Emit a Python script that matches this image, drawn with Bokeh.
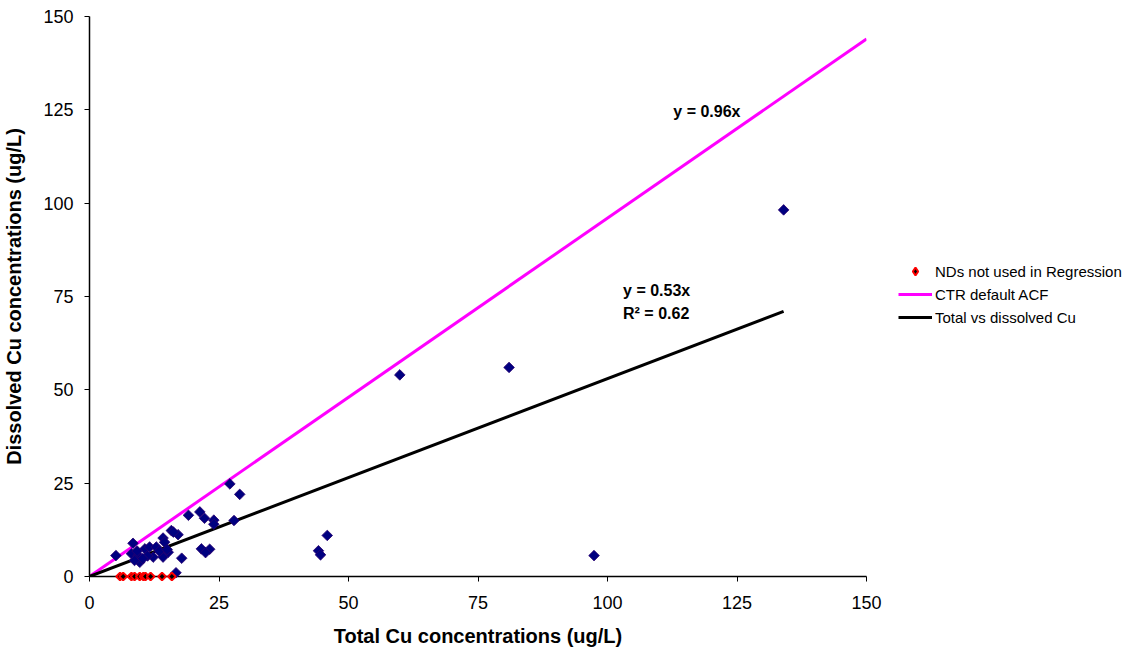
import numpy as np
from bokeh.plotting import figure
from bokeh.models import Range1d, Legend, LegendItem, FixedTicker
from bokeh.core.properties import value
from bokeh.embed import file_html
from bokeh.resources import INLINE

# Data
total_cu = [5.1, 8.4, 8.1, 9.4, 9.7, 8.7, 10.7, 11.6, 12.3, 12.9, 14.2, 14.5, 14.2, 15.2,
            15.8, 17.1, 17.8, 16.7, 19.1, 21.3, 22.2, 24.0, 24.0, 21.6, 23.2, 22.4,
            27.1, 29.0, 27.9, 44.2, 44.6, 45.9, 59.9, 81.0, 97.4, 134.0,
            9.2, 11.2, 13.5, 16.2, 15.0, 10.3]
dissolved_cu = [5.6, 8.9, 6.1, 5.6, 3.8, 4.3, 7.4, 7.9, 5.2, 7.9, 10.3, 9.2, 5.2, 6.5,
                12.3, 11.2, 4.9, 1.0, 16.4, 17.3, 15.6, 15.1, 14.0, 7.4, 7.3, 6.4,
                24.8, 22.0, 15.0, 6.9, 5.8, 11.0, 54.0, 56.0, 5.6, 98.2,
                6.8, 5.5, 6.8, 11.9, 7.2, 4.8]
nd_total = [5.9, 6.5, 8.1, 8.7, 9.7, 10.4, 10.8, 11.8, 14.0, 15.9]
nd_dissolved = [0, 0, 0, 0, 0, 0, 0, 0, 0, 0]
acf_slope = 0.96
reg_slope = 0.53
reg_r2 = 0.62
ticks = [0, 25, 50, 75, 100, 125, 150]

FONT = "Liberation Sans"

p = figure(frame_width=777, frame_height=560,
           min_border_left=85, min_border_top=16, min_border_right=262, min_border_bottom=70,
           x_range=Range1d(0, 150), y_range=Range1d(0, 150),
           output_backend="svg", toolbar_location=None)
p.outline_line_color = None
p.xgrid.visible = False
p.ygrid.visible = False
p.background_fill_color = "white"
p.border_fill_color = "white"

for ax in (p.xaxis[0], p.yaxis[0]):
    ax.ticker = FixedTicker(ticks=ticks)
    ax.minor_tick_line_color = None
    ax.major_tick_in = 0
    ax.major_tick_out = 5
    ax.axis_line_color = "black"
    ax.axis_line_width = 1.5
    ax.major_tick_line_color = "black"
    ax.major_label_text_font = FONT
    ax.major_label_text_font_size = "18px"
    ax.major_label_text_color = "black"
    ax.axis_label_text_font = FONT
    ax.axis_label_text_font_size = "20px"
    ax.axis_label_text_font_style = "bold"
    ax.axis_label_text_color = "black"

p.xaxis.axis_label = "Total Cu concentrations (ug/L)"
p.yaxis.axis_label = "Dissolved Cu concentrations (ug/L)"
p.xaxis.major_label_standoff = 14
p.xaxis.axis_label_standoff = 13
p.yaxis.major_label_standoff = 11
p.yaxis.axis_label_standoff = 15

# Lines
acf_x = [0, p.x_range.end]
acf_y = [acf_slope * v for v in acf_x]
reg_x = [0, max(total_cu)]
reg_y = [reg_slope * v for v in reg_x]
r_acf = p.line(acf_x, acf_y, line_color="#FF00FF", line_width=3)
r_reg = p.line(reg_x, reg_y, line_color="black", line_width=3)

# Points
r_pts = p.scatter(total_cu, dissolved_cu, marker="square", angle=np.pi / 4, size=7.5,
                  fill_color="#000080", line_color="#2a0070", line_width=0.8)
r_nd = p.scatter(nd_total, nd_dissolved, marker="square", angle=np.pi / 4, size=5.5,
                 fill_color="black", line_color="#FF0000", line_width=2)
r_pts.level = "overlay"
r_nd.level = "overlay"
# legend key glyph for the ND series (not drawn in the plot: NaN position)
r_nd_key = p.scatter(x=[float("nan")], y=[float("nan")], marker="diamond", size=12,
                     fill_color="black", line_color="#FF0000", line_width=2)

# Annotations
p.text(x=[112.7], y=[124.5], text=["y = %.2fx" % acf_slope], text_font=value(FONT),
       text_font_size="16px", text_font_style="bold", text_baseline="middle",
       text_align="left", text_color="black")
p.text(x=[103.0], y=[76.6], text=["y = %.2fx" % reg_slope], text_font=value(FONT),
       text_font_size="16px", text_font_style="bold", text_baseline="middle",
       text_align="left", text_color="black")
p.text(x=[103.0], y=[70.4], text=["R\u00b2 = %.2f" % reg_r2], text_font=value(FONT),
       text_font_size="16px", text_font_style="bold", text_baseline="middle",
       text_align="left", text_color="black")

legend = Legend(items=[
    LegendItem(label="NDs not used in Regression", renderers=[r_nd_key]),
    LegendItem(label="CTR default ACF", renderers=[r_acf]),
    LegendItem(label="Total vs dissolved Cu", renderers=[r_reg]),
], location=(32, 249))
legend.border_line_color = None
legend.background_fill_alpha = 0
legend.label_text_font = FONT
legend.label_text_font_size = "15px"
legend.label_text_color = "black"
legend.label_standoff = 3
legend.glyph_width = 34
legend.label_height = 20
legend.glyph_height = 20
legend.spacing = 3
legend.padding = 5
legend.margin = 0
p.add_layout(legend, "right")

open("out.html", "w").write(file_html(p, INLINE))
